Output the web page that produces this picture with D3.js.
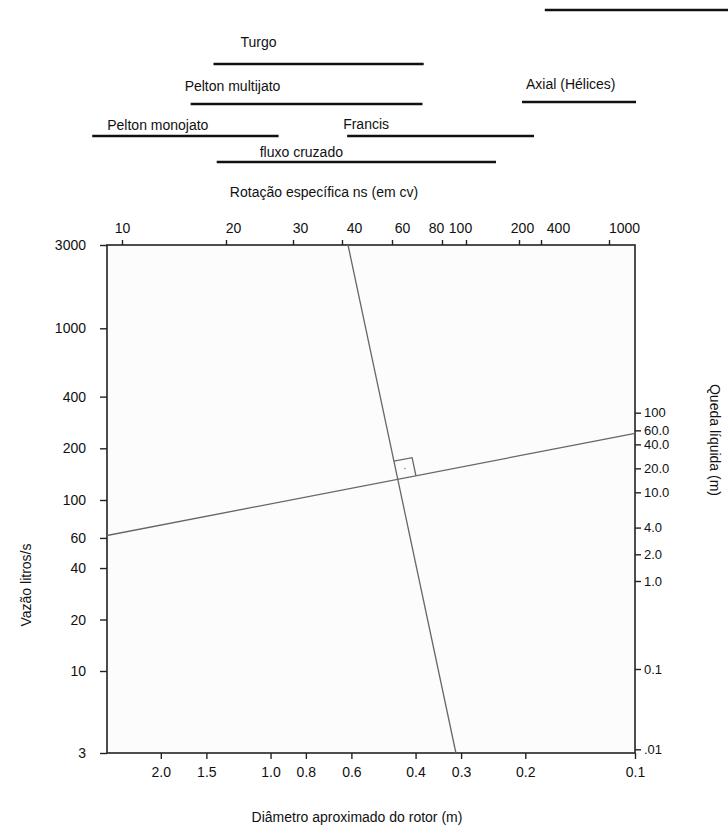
<!DOCTYPE html>
<html><head><meta charset="utf-8">
<script src="https://cdn.jsdelivr.net/npm/d3@7"></script>
<style>
html,body{margin:0;padding:0;background:#fff;}
svg text{font-family:"Liberation Sans",Arial,sans-serif;font-size:14px;fill:#111;}
</style></head>
<body><svg id="c" width="728" height="831"></svg>
<script>
// ---------------- data ----------------
const nsTicks = [10, 20, 30, 40, 60, 80, 100, 200, 400, 1000];          // Rotação específica ns (top)
const qTicks = [3, 10, 20, 40, 60, 100, 200, 400, 1000, 3000];          // Vazão litros/s (left)
const hTicks = [0.01, 0.1, 1, 2, 4, 10, 20, 40, 60, 100];               // Queda líquida (right)
const hTickLabels = [".01", "0.1", "1.0", "2.0", "4.0", "10.0", "20.0", "40.0", "60.0", "100"];
const dTicks = [2.0, 1.5, 1.0, 0.8, 0.6, 0.4, 0.3, 0.2, 0.1];           // Diâmetro do rotor (bottom)
const dTickLabels = ["2.0", "1.5", "1.0", "0.8", "0.6", "0.4", "0.3", "0.2", "0.1"];

const turbines = ["Turgo", "Pelton multijato", "Axial (Hélices)", "Pelton monojato", "Francis", "fluxo cruzado", ""];
const nsFrom   = [18.4, 15.8, 220, 8.2, 41.7, 18.8, 421];
const nsTo     = [72, 71.5, 1440, 27.5, 321, 148, 5000];

const flowQ = 62;        // vazão (l/s) where the Q–H line starts
const headH = 55;        // queda (m) where the Q–H line ends
const nsResult = 42;     // ns read on the top scale
const diamResult = 0.31; // diâmetro read on the bottom scale

// ---------------- layout ----------------
const L = 107, R = 635, T = 245, B = 753;
const barRowY   = [64, 104, 102, 136, 136, 162, 10];
const labelDx   = [27, -6, 4, 15, -4, 43, 0];
const labelRise = [17, 13, 13, 6, 7, 5, 0];
const nsLabelDx = [0, 7, 7, 12, 10, -6, -6, 3, 17, 15];   // printed label offsets on the top scale

const svg = d3.select("#c");

// scales (printed graduations of the nomogram)
const xD = d3.scaleLog().domain([2.81, 0.1]).range([L, R]);
const yQ = d3.scaleLog().domain([3, 10, 100, 1000, 3000]).range([B, 671, 500, 328.3, T]);
const yH = d3.scaleLog().domain([0.01, 0.1, 1, 10, 100]).range([749.3, 669, 581, 492.3, 412.7]);
const xN = d3.scaleLog().domain(nsTicks).range([122, 226, 293, 342, 392, 442, 466, 519, 541, 609]);

// plot area
svg.append("rect").attr("x", L).attr("y", T).attr("width", R - L).attr("height", B - T)
  .attr("fill", "#fcfcfc");

// frame
svg.append("rect").attr("x", L).attr("y", T).attr("width", R - L).attr("height", B - T)
  .attr("fill", "none").attr("stroke", "#222").attr("stroke-width", 1.6);

function styleAxis(g, fs) {
  g.select(".domain").remove();
  g.selectAll(".tick line").attr("stroke", "#222").attr("stroke-width", 1.4);
  g.selectAll(".tick text").attr("fill", "#111").style("font-family", '"Liberation Sans",Arial,sans-serif').style("font-size", (fs || 14) + "px");
}

// left axis
svg.append("g").attr("transform", `translate(${L},0)`)
  .call(d3.axisLeft(yQ).tickValues(qTicks).tickFormat(d3.format("d")).tickSize(7).tickPadding(14))
  .call(g => styleAxis(g, 14));

// right axis
svg.append("g").attr("transform", `translate(${R},0)`)
  .call(d3.axisRight(yH).tickValues(hTicks).tickFormat((d, i) => hTickLabels[i]).tickSize(6).tickPadding(3))
  .call(g => styleAxis(g, 13));

// bottom axis
svg.append("g").attr("transform", `translate(0,${B})`)
  .call(d3.axisBottom(xD).tickValues(dTicks).tickFormat((d, i) => dTickLabels[i]).tickSize(6).tickPadding(8))
  .call(g => styleAxis(g, 14));

// top axis
const topAx = svg.append("g").attr("transform", `translate(0,${T})`)
  .call(d3.axisTop(xN).tickValues(nsTicks).tickFormat(d3.format("d")).tickSize(5).tickPadding(7))
  .call(g => styleAxis(g, 14));
topAx.selectAll(".tick text").attr("dx", (d, i) => nsLabelDx[i]);

// axis titles
svg.append("text").attr("x", 324).attr("y", 197).attr("text-anchor", "middle")
  .text("Rotação específica ns (em cv)");
svg.append("text").attr("x", 357).attr("y", 822).attr("text-anchor", "middle")
  .text("Diâmetro aproximado do rotor (m)");
svg.append("text").attr("transform", "translate(31,585) rotate(-90)").attr("text-anchor", "middle")
  .text("Vazão  litros/s");
svg.append("text").attr("transform", "translate(710,440) rotate(90)").attr("text-anchor", "middle")
  .text("Queda líquida (m)");

// turbine ranges
turbines.forEach((name, i) => {
  const x0 = xN(nsFrom[i]), x1 = xN(nsTo[i]), y = barRowY[i];
  svg.append("line").attr("x1", x0).attr("x2", x1).attr("y1", y).attr("y2", y)
    .attr("stroke", "#111").attr("stroke-width", 2.5);
  if (name) svg.append("text").attr("x", x0 + labelDx[i]).attr("y", y - labelRise[i]).text(name);
});

// construction lines
const p1 = [L, yQ(flowQ)], p2 = [R, yH(headH)];
const p3 = [xN(nsResult), T], p4 = [xD(diamResult), B];
const lineG = svg.append("g").attr("stroke", "#666").attr("stroke-width", 1.3).attr("fill", "none");
lineG.append("line").attr("x1", p1[0]).attr("y1", p1[1]).attr("x2", p2[0]).attr("y2", p2[1]);
lineG.append("line").attr("x1", p3[0]).attr("y1", p3[1]).attr("x2", p4[0]).attr("y2", p4[1]);

// intersection & right-angle marker
function intersect(a, b, c, d) {
  const d1x = b[0] - a[0], d1y = b[1] - a[1], d2x = d[0] - c[0], d2y = d[1] - c[1];
  const den = d1x * d2y - d1y * d2x;
  const t = ((c[0] - a[0]) * d2y - (c[1] - a[1]) * d2x) / den;
  return [a[0] + t * d1x, a[1] + t * d1y];
}
const X = intersect(p1, p2, p3, p4);
const s = 18.5;
const n1 = Math.hypot(p2[0] - p1[0], p2[1] - p1[1]);
const u = [(p2[0] - p1[0]) / n1, (p2[1] - p1[1]) / n1];
const n2 = Math.hypot(p3[0] - p4[0], p3[1] - p4[1]);
const v = [(p3[0] - p4[0]) / n2, (p3[1] - p4[1]) / n2];
const a = [X[0] + v[0] * s, X[1] + v[1] * s];
const c = [X[0] + u[0] * s, X[1] + u[1] * s];
const b = [a[0] + u[0] * s, a[1] + u[1] * s];
lineG.append("path").attr("d", d3.line()([a, b, c]));
svg.append("circle").attr("cx", (X[0] + b[0]) / 2).attr("cy", (X[1] + b[1]) / 2).attr("r", 0.8).attr("fill", "#888");
</script></body></html>
